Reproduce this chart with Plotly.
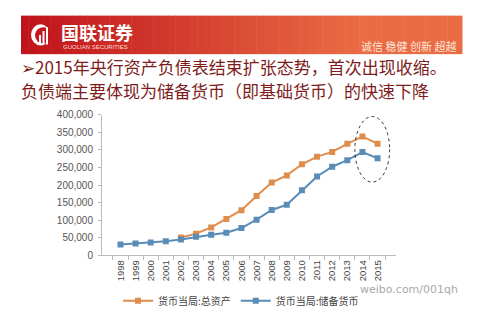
import plotly.graph_objects as go

# Central bank balance sheet, 100 million yuan
years = [str(y) for y in range(1998, 2016)]
total_assets = [None, None, None, None, 51100, 61800, 79400, 103700, 128600,
                169100, 207100, 227500, 259300, 280900, 294500, 317300, 338200, 317800]
reserve_money = [31300, 33600, 36500, 39900, 45100, 52800, 58900, 64300, 77800,
                 101500, 129200, 143900, 185300, 224600, 252300, 271000, 294100, 276400]
y_ticks = [0, 50000, 100000, 150000, 200000, 250000, 300000, 350000, 400000]

series_names = ["货币当局:总资产", "货币当局:储备货币"]
title_lines = ["➢2015年央行资产负债表结束扩张态势，首次出现收缩。",
               "负债端主要体现为储备货币（即基础货币）的快速下降"]

ORANGE = "#df8d4c"
BLUE = "#5a8cb8"
W, H = 492, 323

fig = go.Figure()
fig.add_trace(go.Scatter(x=years, y=total_assets, name=series_names[0],
                         mode="lines+markers",
                         line=dict(color=ORANGE, width=2),
                         marker=dict(symbol="square", size=6, color=ORANGE)))
fig.add_trace(go.Scatter(x=years, y=reserve_money, name=series_names[1],
                         mode="lines+markers",
                         line=dict(color=BLUE, width=2),
                         marker=dict(symbol="square", size=6, color=BLUE)))

def px_x(p):
    return p / W

def px_y(p):
    return 1 - p / H

shapes = []
# header banner: horizontal red-to-orange gradient built from thin strips
x0, x1, top, bot = 21, 462, 10, 50
n = 60
c0 = (192, 20, 28)
c1 = (234, 108, 68)
for i in range(n):
    t = i / (n - 1)
    t2 = min(1.0, t * 1.3)
    col = tuple(int(c0[k] + (c1[k] - c0[k]) * t2) for k in range(3))
    shapes.append(dict(type="rect", xref="paper", yref="paper",
                       x0=px_x(x0 + (x1 - x0) * i / n),
                       x1=px_x(x0 + (x1 - x0) * (i + 1) / n + 0.5),
                       y0=px_y(bot), y1=px_y(top),
                       line=dict(width=0), fillcolor="rgb(%d,%d,%d)" % col,
                       layer="below"))
# logo
shapes.append(dict(type="circle", xref="paper", yref="paper",
                   x0=px_x(31), x1=px_x(50), y0=px_y(41), y1=px_y(19),
                   line=dict(width=0), fillcolor="white"))
shapes.append(dict(type="circle", xref="paper", yref="paper",
                   x0=px_x(35), x1=px_x(52), y0=px_y(39), y1=px_y(22),
                   line=dict(width=0), fillcolor="#c4161e"))
for bx, btop in [(39, 30), (42.5, 26), (46, 22)]:
    shapes.append(dict(type="rect", xref="paper", yref="paper",
                       x0=px_x(bx), x1=px_x(bx + 2), y0=px_y(40), y1=px_y(btop),
                       line=dict(width=0), fillcolor="white"))

# dotted ellipse around the last two years
peak = max(v for v in total_assets if v is not None)
low = min(reserve_money[-2:])
shapes.append(dict(type="circle", xref="x", yref="y",
                   x0=len(years) - 2.5, x1=len(years) - 0.2,
                   y0=low - 68000, y1=peak + 57000,
                   line=dict(color="#333333", width=1, dash="dot"),
                   fillcolor="rgba(0,0,0,0)"))

annotations = [
    dict(text="<b>国联证券</b>", x=px_x(59), y=px_y(26.5), xref="paper", yref="paper",
         xanchor="left", yanchor="middle", showarrow=False,
         font=dict(family="Noto Sans CJK SC", size=18, color="white")),
    dict(text="GUOLIAN SECURITIES", x=px_x(61), y=px_y(42.5), xref="paper", yref="paper",
         xanchor="left", yanchor="middle", showarrow=False,
         font=dict(family="Liberation Sans", size=6, color="#ffd9d0")),
    dict(text="诚信 稳健 创新 超越", x=px_x(458), y=px_y(42), xref="paper", yref="paper",
         xanchor="right", yanchor="middle", showarrow=False,
         font=dict(family="Noto Sans CJK SC", size=11, color="#fde3d6")),
    dict(text="weibo.com/001qh", x=px_x(358), y=px_y(294), xref="paper", yref="paper",
         xanchor="left", yanchor="middle", showarrow=False,
         font=dict(family="DejaVu Sans", size=11, color="#aaaaaa")),
]
# two-line heading under the banner
for line, ypos in zip(title_lines, [62.5, 87.5]):
    annotations.append(dict(text=line, x=px_x(19), y=px_y(ypos), xref="paper", yref="paper",
                            xanchor="left", yanchor="middle", showarrow=False,
                            font=dict(family="Noto Sans CJK SC", size=17, color="#7e1c1c")))

fig.update_layout(
    width=W, height=H,
    margin=dict(l=0, r=0, t=0, b=0),
    paper_bgcolor="white", plot_bgcolor="white",
    shapes=shapes, annotations=annotations,
    showlegend=True,
    legend=dict(orientation="h", x=px_x(118), y=px_y(291), xanchor="left", yanchor="top",
                font=dict(family="Noto Sans CJK SC", size=10, color="#444444"),
                itemwidth=30, bgcolor="rgba(0,0,0,0)", tracegroupgap=0),
    xaxis=dict(domain=[px_x(102), px_x(396)], type="category",
               tickson="boundaries", ticks="outside", ticklen=4, tickcolor="#bbbbbb",
               showline=True, linecolor="#bbbbbb", linewidth=1,
               showgrid=False, tickangle=-90,
               tickfont=dict(family="Liberation Sans", size=9.5, color="#444444")),
    yaxis=dict(domain=[px_y(259), px_y(113)], range=[0, 400000],
               tickvals=y_ticks, tickformat=",", ticks="outside", ticklen=3,
               tickcolor="#bbbbbb", showline=True, linecolor="#bbbbbb", linewidth=1,
               showgrid=False, zeroline=False, ticklabelstandoff=3,
               tickfont=dict(family="Liberation Sans", size=10, color="#555555")),
)

fig.write_html("out.html")
